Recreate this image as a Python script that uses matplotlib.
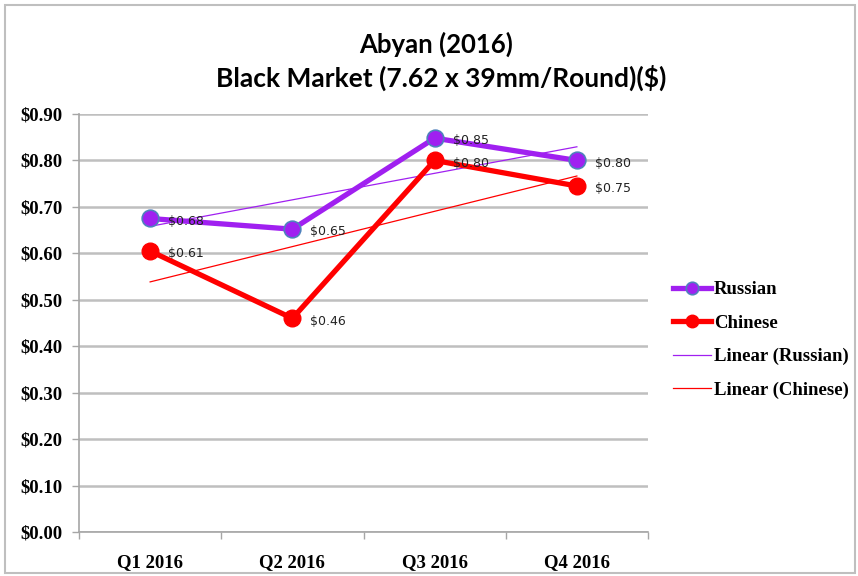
import matplotlib
matplotlib.use("Agg")
import matplotlib.pyplot as plt
from matplotlib.patches import Rectangle
import numpy as np

categories = ["Q1 2016", "Q2 2016", "Q3 2016", "Q4 2016"]
russian = [0.675, 0.652, 0.848, 0.80]
chinese = [0.605, 0.46, 0.80, 0.745]
russian_labels = ["$0.68", "$0.65", "$0.85", "$0.80"]
chinese_labels = ["$0.61", "$0.46", "$0.80", "$0.75"]
yticks = [0.0, 0.1, 0.2, 0.3, 0.4, 0.5, 0.6, 0.7, 0.8, 0.9]

W, H = 858, 576
fig = plt.figure(figsize=(W / 100, H / 100), dpi=100)
fig.patch.set_facecolor("white")
fig.patches.append(Rectangle((5 / W, 3 / H), (W - 8) / W, (H - 8) / H, transform=fig.transFigure,
                             fill=False, edgecolor="#BFBFBF", linewidth=1.5))

ax = fig.add_axes([79 / W, 1 - 532 / H, (648 - 79) / W, (532 - 114) / H])
x = np.arange(len(categories))

purple = "#A020F0"
red = "#FF0000"

ax.plot(x, russian, color=purple, lw=3.8, marker="o", ms=12, mfc=purple, mec="#4F81BD", mew=1.2,
        label="Russian", zorder=4)
ax.plot(x, chinese, color=red, lw=3.8, marker="o", ms=12, mfc=red, mec=red,
        label="Chinese", zorder=4)

pr = np.polyfit(x, russian, 1)
pc = np.polyfit(x, chinese, 1)
ax.plot(x, np.polyval(pr, x), color=purple, lw=0.9, label="Linear (Russian)", zorder=3)
ax.plot(x, np.polyval(pc, x), color=red, lw=0.9, label="Linear (Chinese)", zorder=3)

for xi, v, lab in zip(x, russian, russian_labels):
    ax.annotate(lab, (xi, v), xytext=(13, -2), textcoords="offset points", va="center", ha="left",
                fontsize=9, family="DejaVu Sans", color="#222222", zorder=5)
for xi, v, lab in zip(x, chinese, chinese_labels):
    ax.annotate(lab, (xi, v), xytext=(13, -2), textcoords="offset points", va="center", ha="left",
                fontsize=9, family="DejaVu Sans", color="#222222", zorder=5)

ax.set_xlim(-0.5, 3.5)
ax.set_ylim(0, 0.9)
ax.set_yticks(yticks)
ax.set_yticklabels([f"${t:.2f}" for t in yticks])
ax.set_xticks(x)
ax.set_xticklabels(categories)
ax.set_xticks([-0.5, 0.5, 1.5, 2.5, 3.5], minor=True)
ax.tick_params(axis="x", which="major", length=0, pad=16)
ax.tick_params(axis="x", which="minor", length=5, color="#A6A6A6", width=1)
ax.tick_params(axis="y", length=5, color="#A6A6A6", width=1, pad=7)
for lab in ax.get_xticklabels() + ax.get_yticklabels():
    lab.set_fontfamily("Liberation Serif")
    lab.set_fontweight("bold")
    lab.set_fontsize(13.5)
ax.grid(axis="y", color="#BFBFBF", lw=1.8)
ax.set_axisbelow(True)
for s in ["top", "right"]:
    ax.spines[s].set_visible(False)
for s in ["left", "bottom"]:
    ax.spines[s].set_color("#A6A6A6")
    ax.spines[s].set_linewidth(1.2)

leg = fig.legend(loc="upper left", bbox_to_anchor=(664 / W, 1 - 272 / H), frameon=False,
                 prop={"family": "Liberation Serif", "weight": "bold", "size": 13.5},
                 handlelength=2.0, handletextpad=0.15, labelspacing=0.86, borderpad=0)
for h in leg.legend_handles[:2]:
    h.set_markersize(9)

fig.text(436 / W, 1 - 44 / H, "Abyan (2016)", ha="center", va="center",
         family="Lato", fontweight="bold", fontsize=18.5)
fig.text(441 / W, 1 - 78 / H, "Black Market (7.62 x 39mm/Round)($)", ha="center", va="center",
         family="Lato", fontweight="bold", fontsize=19)

fig.savefig("out.png", dpi=100)
